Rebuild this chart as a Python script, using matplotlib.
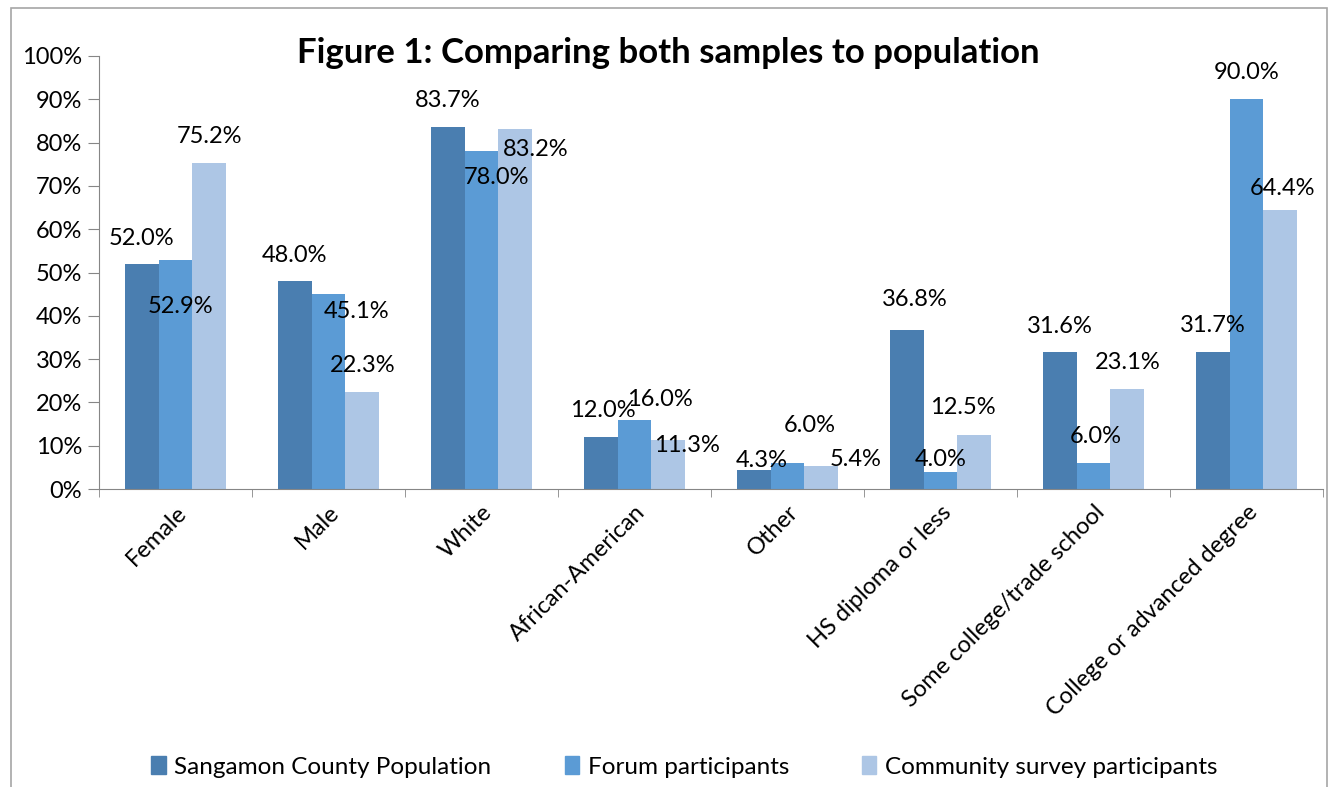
import matplotlib
matplotlib.use("Agg")
import matplotlib.pyplot as plt
from matplotlib.patches import Rectangle, Patch
from matplotlib.ticker import FuncFormatter
import numpy as np

plt.rcParams['font.family'] = ['Lato', 'DejaVu Sans']

categories = ['Female', 'Male', 'White', 'African-American', 'Other',
              'HS diploma or less', 'Some college/trade school',
              'College or advanced degree']
series_names = ['Sangamon County Population', 'Forum participants',
                'Community survey participants']
county = [52.0, 48.0, 83.7, 12.0, 4.3, 36.8, 31.6, 31.7]
forum = [52.9, 45.1, 78.0, 16.0, 6.0, 4.0, 6.0, 90.0]
survey = [75.2, 22.3, 83.2, 11.3, 5.4, 12.5, 23.1, 64.4]

colors = ['#4A7EB0', '#5B9BD5', '#ADC6E5']

# label offsets in pixels from the top centre of each bar
label_offsets = [
    [(0, 25), (5, -47), (0, 27)],
    [(0, 26), (28, -18), (0, 27)],
    [(0, 26), (15, -26), (20, -21)],
    [(2, 27), (25, 20), (18, -5)],
    [(8, 10), (22, 38), (34, 6)],
    [(8, 30), (0, 12), (-12, 27)],
    [(0, 26), (2, 27), (0, 26)],
    [(0, 26), (0, 27), (2, 22)],
]

fig = plt.figure(figsize=(13.29, 7.87), dpi=100)
ax = fig.add_axes([99 / 1329, 1 - 489 / 787, 1224 / 1329, 433 / 787])

x = np.arange(len(categories))
w = 0.222
for i, vals in enumerate([county, forum, survey]):
    pos = x + (i - 1) * w
    ax.bar(pos, vals, width=w, color=colors[i], edgecolor='none',
           label=series_names[i])
    for g, v in enumerate(vals):
        dx, dy = label_offsets[g][i]
        ax.annotate(f'{v:.1f}%', (pos[g], v), xytext=(dx, dy),
                    textcoords='offset pixels', ha='center', va='center',
                    fontsize=17, color='black')

ax.set_xlim(-0.5, len(categories) - 0.5)
ax.set_ylim(0, 100)
ax.set_yticks(np.arange(0, 101, 10))
ax.yaxis.set_major_formatter(FuncFormatter(lambda v, p: f'{v:.0f}%'))
ax.tick_params(axis='y', length=8, color='#868686', labelsize=17,
               pad=4)

ax.set_xticks(x)
ax.set_xticklabels(categories, rotation=45, ha='right',
                   rotation_mode='anchor', fontsize=17)
ax.tick_params(axis='x', length=0, pad=9)
ax.set_xticks(np.arange(-0.5, len(categories), 1), minor=True)
ax.tick_params(axis='x', which='minor', length=6, color='#868686')

for s in ['top', 'right']:
    ax.spines[s].set_visible(False)
for s in ['left', 'bottom']:
    ax.spines[s].set_color('#868686')

fig.text(0.503, 0.933, 'Figure 1: Comparing both samples to population',
         ha='center', va='center', fontsize=25, fontweight='bold')

handles = [Patch(color=c) for c in colors]
fig.legend(handles, series_names, loc='center', ncol=3,
           bbox_to_anchor=(0.515, 1 - 767 / 787), frameon=False,
           fontsize=17.5, handlelength=0.6, handleheight=0.75,
           handletextpad=0.35, columnspacing=3.0)

fig.patches.append(Rectangle((11 / 1329, -0.1), 1316 / 1329, 1.1 - 8 / 787,
                             transform=fig.transFigure, fill=False,
                             edgecolor='#A6A6A6', lw=1.2))

fig.savefig('out.png', dpi=100)
